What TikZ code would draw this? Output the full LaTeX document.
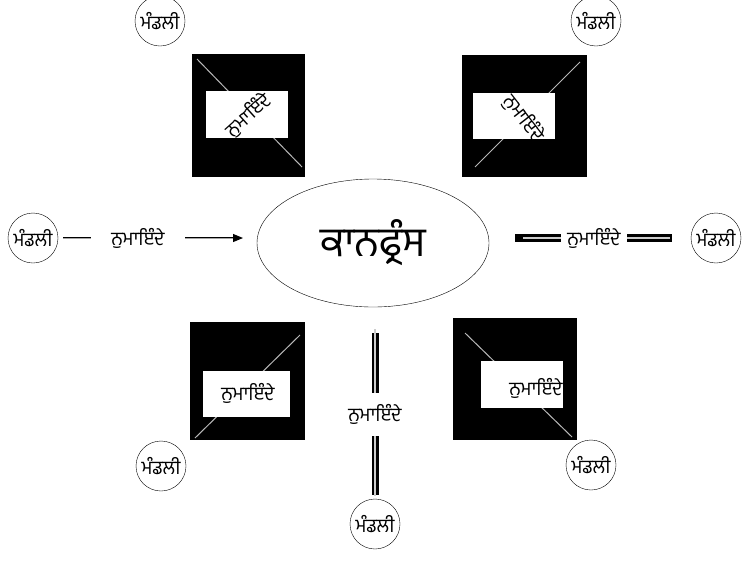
\documentclass[tikz,border=0pt]{standalone}
\usepackage{fontspec}
\newfontfamily\gurfont[Script=Gurmukhi]{Hind Jalandhar}
\usetikzlibrary{shapes.geometric,arrows.meta}
\tikzset{
  mandali/.style={draw, circle, inner sep=0pt, minimum size=50pt, font=\gurfont\fontsize{19}{21}\selectfont},
  conf/.style={draw, ellipse, minimum width=232pt, minimum height=128pt, font=\gurfont\fontsize{41}{44}\selectfont},
  lbl/.style={fill=white, inner sep=3pt, font=\gurfont\fontsize{19}{21}\selectfont},
  lbltext/.style={inner sep=0pt, font=\gurfont\fontsize{19}{21}\selectfont},
  thinlink/.style={double=gray!70, double distance=0.7pt, line width=1.1pt, -{Triangle[length=10pt,width=8pt]}},
  thickouter/.style={line width=8pt, draw=black},
  thickinner/.style={line width=1.6pt, draw=gray!40},
  blk/.style={fill=black},
  grayline/.style={draw=gray!55, line width=1pt},
  whitebox/.style={fill=white}
}
\begin{document}
\begin{tikzpicture}[x=1pt,y=-1pt]
\useasboundingbox (0,0) rectangle (743,563);
% centre
\node[conf] (c) at (373,243) {ਕਾਨਫ੍ਰੰਸ};
% circles
\node[mandali] (tl) at (160,21) {ਮੰਡਲੀ};
\node[mandali] (tr) at (596,21) {ਮੰਡਲੀ};
\node[mandali] (l) at (33,238) {ਮੰਡਲੀ};
\node[mandali] (r) at (716,238) {ਮੰਡਲੀ};
\node[mandali] (bl) at (161,466) {ਮੰਡਲੀ};
\node[mandali] (br) at (591,465) {ਮੰਡਲੀ};
\node[mandali] (b) at (375,524) {ਮੰਡਲੀ};
% left link
\coordinate (la) at (63,238);
\coordinate (lb) at (243,238);
\draw[thinlink] (la) -- (lb);
\node[lbl, minimum width=94pt] (ll) at (138,238) {ਨੁਮਾਇੰਦੇ};
% right link
\coordinate (ra) at (515,238);
\coordinate (rb) at (672,238);
\draw[thickouter] (ra) -- (rb);
\draw[thickinner] ([xshift=8pt]ra) -- ([xshift=-2pt]rb);
\node[lbl, minimum width=66pt, minimum height=30pt] (rl) at (594,238) {ਨੁਮਾਇੰਦੇ};
% bottom link
\coordinate (ba) at (375,333);
\coordinate (bb) at (375,495);
\draw[thickouter, line width=7pt] (ba) -- (bb);
\draw[thickinner, line width=1.4pt] ([yshift=4pt]ba) -- ([yshift=-1pt]bb);
\node[lbl, minimum height=43pt] (bml) at (375,414) {ਨੁਮਾਇੰਦੇ};
% top-left block
\fill[blk] (192,54) rectangle (305,177);
\draw[grayline] (197,59) -- (302,167);
\fill[whitebox] (206,91) rectangle (288,138);
\begin{scope}
\clip (206,91) rectangle (288,138);
\node[lbltext, rotate=42] (tll) at (248,115) {ਨੁਮਾਇੰਦੇ};
\end{scope}
% top-right block
\fill[blk] (462,55) rectangle (587,177);
\draw[grayline] (475,167) -- (580,62);
\fill[whitebox] (473,93) rectangle (555,139);
\begin{scope}
\clip (473,93) rectangle (555,139);
\node[lbltext, rotate=-52] (trl) at (524,118) {ਨੁਮਾਇੰਦੇ};
\end{scope}
% bottom-left block
\fill[blk] (190,322) rectangle (305,440);
\draw[grayline] (195,438) -- (300,335);
\fill[whitebox] (203,371) rectangle (290,417);
\node[lbltext] (bll) at (248,393) {ਨੁਮਾਇੰਦੇ};
% bottom-right block
\fill[blk] (453,318) rectangle (577,440);
\draw[grayline] (465,333) -- (572,437);
\fill[whitebox] (481,361) rectangle (563,408);
\begin{scope}
\clip (481,361) rectangle (563,408);
\node[lbltext] (brl) at (536,388) {ਨੁਮਾਇੰਦੇ};
\end{scope}
\end{tikzpicture}
\end{document}
